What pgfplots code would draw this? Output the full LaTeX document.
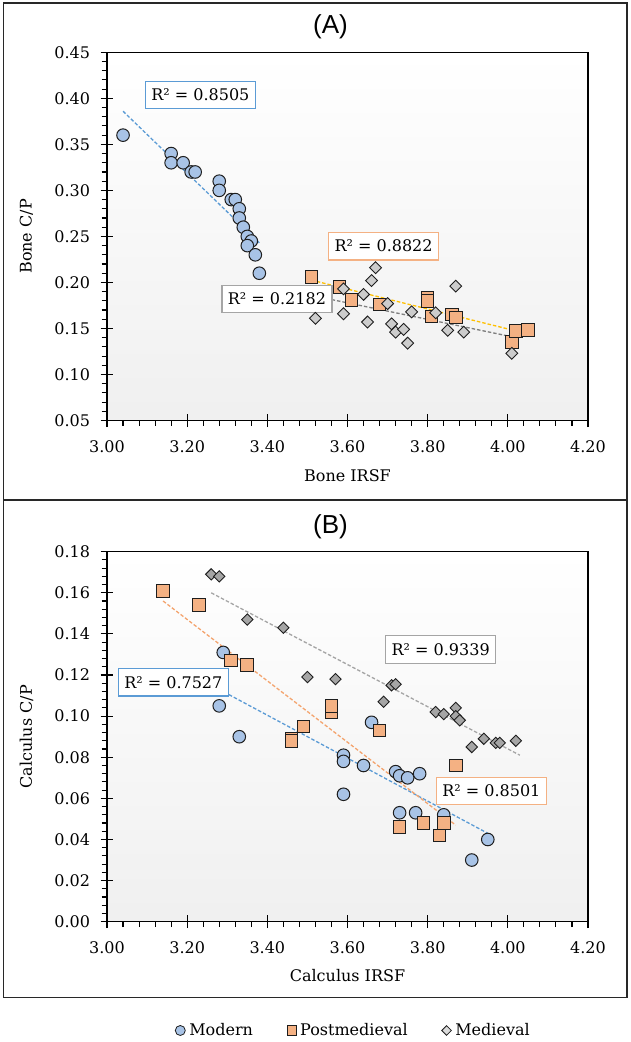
\documentclass[border=0pt]{standalone}
\usepackage{fontspec}
\setmainfont{DejaVu Serif}
\newfontfamily\titlefont{Liberation Sans}
\usepackage{pgfplots}
\pgfplotsset{compat=1.18}

\definecolor{modfill}{RGB}{168,195,230}
\definecolor{postfill}{RGB}{244,177,131}
\definecolor{medfillA}{RGB}{204,204,204}
\definecolor{medfillB}{RGB}{165,165,165}
\definecolor{edge}{RGB}{30,30,30}
\definecolor{tblue}{RGB}{91,155,213}
\definecolor{tgold}{RGB}{255,192,0}
\definecolor{torange}{RGB}{244,164,110}
\definecolor{tgray}{RGB}{127,127,127}
\definecolor{tgrayB}{RGB}{165,165,165}
\definecolor{framec}{RGB}{40,40,40}

\newcommand\fs{\fontsize{16}{19}\selectfont}

\pgfplotsset{
  myaxis/.style={
    scale only axis, width=481pt,
    xmin=3, xmax=4.2,
    xtick={3,3.2,3.4,3.6,3.8,4,4.2},
    minor x tick num=4, minor y tick num=4,
    xtick pos=bottom, ytick pos=left,
    tick align=center, major tick length=13pt, minor tick length=5.3pt,
    minor x tick style={yshift=-2.65pt}, minor y tick style={xshift=-2.65pt},
    tick style={line width=1.1pt, black},
    axis line style={line width=1.1pt, black},
    /pgf/number format/fixed, /pgf/number format/fixed zerofill,
    /pgf/number format/precision=2, /pgf/number format/assume math mode=true,
    tick label style={font=\fs},
    xticklabel style={yshift=-10pt},
    yticklabel style={xshift=-7pt},
    label style={font=\fs},
    title style={font=\titlefont\fontsize{26}{30}\selectfont, anchor=center},
    axis background/.style={shade, top color=white, bottom color=black!6},
    clip=false,
  },
  mod/.style={only marks, mark=*, mark size=6.3pt, mark options={fill=modfill, draw=edge, line width=1pt}},
  post/.style={only marks, mark=square*, mark size=6.3pt, mark options={fill=postfill, draw=edge, line width=1pt}},
  medA/.style={only marks, mark=square*, mark size=4.2pt, mark options={fill=medfillA, draw=edge, line width=0.9pt, rotate=45}},
  medB/.style={only marks, mark=square*, mark size=4.0pt, mark options={fill=medfillB, draw=edge, line width=0.9pt, rotate=45}},
  trend/.style={no markers, line width=1.3pt, dash pattern=on 3.5pt off 2pt, forget plot},
}
\tikzset{lab/.style={draw, fill=white, line width=1.2pt, inner xsep=6pt, inner ysep=8pt, text height=11.7pt, text depth=0pt, font=\fs}}

\begin{document}
\begin{tikzpicture}[x=1pt,y=1pt]
\useasboundingbox (0,0) rectangle (630,-1042);
\draw[framec, line width=1.6pt] (3.3,-2.7) rectangle (626.7,-997.5);
\draw[framec, line width=1.6pt] (3.3,-500) -- (626.7,-500);

% ---------------- Panel A ----------------
\begin{axis}[myaxis,
  at={(107pt,-52.3pt)}, anchor=north west,
  height=368.2pt,
  ymin=0.05, ymax=0.45,
  ytick={0.05,0.10,0.15,0.20,0.25,0.30,0.35,0.40,0.45},
  xlabel={Bone IRSF}, ylabel={Bone C/P},
  xlabel style={at={(rel axis cs:0.5,-0.1507)}, anchor=center},
  ylabel style={at={(rel axis cs:-0.1673,0.5)}, anchor=center},
  title={(A)}, title style={at={(rel axis cs:0.4646,1.066)}, yshift=-5pt},
]
\addplot[mod, forget plot] coordinates {
(3.04,0.360) (3.16,0.340) (3.16,0.330) (3.19,0.330) (3.21,0.320) (3.22,0.320)
(3.28,0.310) (3.28,0.300) (3.31,0.290) (3.32,0.290) (3.33,0.280) (3.33,0.270)
(3.34,0.260) (3.35,0.250) (3.36,0.245) (3.35,0.240) (3.37,0.230) (3.38,0.210)
};
\addplot[post, forget plot] coordinates {
(3.51,0.206) (3.58,0.195) (3.61,0.181) (3.68,0.176) (3.80,0.183) (3.80,0.180)
(3.81,0.163) (3.86,0.165) (3.87,0.162) (4.01,0.135) (4.02,0.147) (4.05,0.148)
};
\addplot[medA, forget plot] coordinates {
(3.67,0.216) (3.66,0.202) (3.59,0.193) (3.64,0.187) (3.70,0.177) (3.76,0.168)
(3.82,0.167) (3.87,0.196) (3.52,0.161) (3.59,0.166) (3.65,0.157) (3.71,0.155)
(3.72,0.146) (3.74,0.149) (3.75,0.134) (3.85,0.148) (3.89,0.146) (4.01,0.123)
};
\addplot[trend, tblue] coordinates {(3.04,0.386) (3.38,0.243)};
\addplot[trend, tgold] coordinates {(3.51,0.2025) (4.06,0.143)};
\addplot[trend, tgray] coordinates {(3.52,0.185) (4.01,0.141)};
\node[lab, draw=tblue] at (axis cs:3.233,0.4036) {R² = 0.8505};
\node[lab, draw=postfill] at (axis cs:3.69,0.2395) {R² = 0.8822};
\node[lab, draw=tgrayB] at (axis cs:3.424,0.182) {R² = 0.2182};
\end{axis}

% ---------------- Panel B ----------------
\begin{axis}[myaxis,
  at={(107pt,-551.7pt)}, anchor=north west,
  height=370pt,
  ymin=0, ymax=0.18,
  ytick={0,0.02,0.04,0.06,0.08,0.10,0.12,0.14,0.16,0.18},
  xlabel={Calculus IRSF}, ylabel={Calculus C/P},
  xlabel style={at={(rel axis cs:0.5,-0.1468)}, anchor=center},
  ylabel style={at={(rel axis cs:-0.1673,0.5)}, anchor=center},
  title={(B)}, title style={at={(rel axis cs:0.4646,1.066)}, yshift=-5pt},
  legend columns=3,
  legend style={at={(rel axis cs:0.5125,-0.294)}, anchor=center, draw=none, fill=none,
    font=\fs, column sep=2pt, /tikz/every even column/.append style={column sep=32pt}},
]
\addlegendimage{only marks, mark=*, mark size=5pt, mark options={fill=modfill, draw=edge, line width=0.8pt}}
\addlegendentry{Modern}
\addlegendimage{only marks, mark=square*, mark size=4.6pt, mark options={fill=postfill, draw=edge, line width=0.8pt}}
\addlegendentry{Postmedieval}
\addlegendimage{only marks, mark=square*, mark size=3.4pt, mark options={fill=medfillA!70!white, draw=edge, line width=0.8pt, rotate=45}}
\addlegendentry{Medieval}

\addplot[mod, forget plot] coordinates {
(3.29,0.131) (3.28,0.105) (3.33,0.090) (3.59,0.081) (3.59,0.078) (3.64,0.076)
(3.59,0.062) (3.66,0.097) (3.72,0.073) (3.73,0.071) (3.75,0.070) (3.78,0.072)
(3.73,0.053) (3.77,0.053) (3.84,0.052) (3.95,0.040) (3.91,0.030)
};
\addplot[post, forget plot] coordinates {
(3.14,0.161) (3.23,0.154) (3.31,0.127) (3.35,0.125) (3.46,0.089) (3.46,0.088)
(3.49,0.095) (3.56,0.102) (3.56,0.105) (3.68,0.093) (3.87,0.076) (3.73,0.046)
(3.79,0.048) (3.83,0.042) (3.84,0.048)
};
\addplot[medB, forget plot] coordinates {
(3.26,0.169) (3.28,0.168) (3.35,0.147) (3.44,0.143) (3.50,0.119) (3.57,0.118)
(3.69,0.107) (3.71,0.115) (3.72,0.1155) (3.82,0.102) (3.84,0.101) (3.87,0.104)
(3.87,0.100) (3.88,0.098) (3.91,0.085) (3.94,0.089) (3.97,0.087) (3.98,0.087)
(4.02,0.088)
};
\addplot[trend, tblue] coordinates {(3.28,0.113) (3.95,0.043)};
\addplot[trend, torange] coordinates {(3.14,0.156) (3.87,0.047)};
\addplot[trend, tgrayB] coordinates {(3.26,0.160) (4.03,0.081)};
\node[lab, draw=tblue] at (axis cs:3.1655,0.1165) {R² = 0.7527};
\node[lab, draw=tgrayB] at (axis cs:3.8325,0.1325) {R² = 0.9339};
\node[lab, draw=postfill] at (axis cs:3.959,0.0636) {R² = 0.8501};
\end{axis}
\end{tikzpicture}
\end{document}
